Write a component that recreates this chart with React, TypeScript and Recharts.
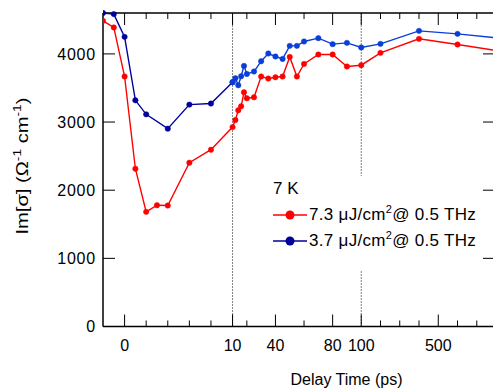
import React from "react";
import { ComposedChart, Line, XAxis, YAxis, ReferenceLine, Legend } from "recharts";

// Im[sigma] vs delay time at 7 K, two pump fluences.
// The time axis is broken into three linear pieces (0-10, 10-100, 100+ ps).

const FONT = '"Liberation Sans", Arial, Helvetica, sans-serif';
const RED = "#ff0000";
const NAVY = "#00009c";
const BLUE = "#0a3ed6";

const redTimes = [-2, -1, 0, 1, 2, 3, 4, 6, 8, 10, 12, 14, 16, 18, 20, 25, 30, 35, 40, 45, 50, 55, 60, 70, 80, 90, 100, 200, 400, 600, 800];
const redValues = [4485, 4388, 3668, 2315, 1682, 1779, 1775, 2403, 2594, 2926, 3029, 3172, 3231, 3437, 3349, 3363, 3668, 3638, 3657, 3668, 3956, 3668, 3853, 3991, 3991, 3815, 3834, 4015, 4221, 4138, 4050];

// the low-fluence curve is drawn in two colours (before / after 10 ps)
const blueEarlyTimes = [-2, -1, 0, 1, 2, 4, 6, 8, 10];
const blueEarlyValues = [4600, 4584, 4250, 3319, 3113, 2903, 3256, 3271, 3585];
const blueLateTimes = [10, 12, 14, 16, 18, 20, 25, 30, 35, 40, 45, 50, 55, 60, 70, 80, 90, 100, 200, 400, 600, 800];
const blueLateValues = [3585, 3643, 3540, 3672, 3824, 3706, 3741, 3893, 4006, 3962, 3926, 4118, 4118, 4182, 4231, 4143, 4162, 4094, 4147, 4338, 4294, 4235];

const xTickTimes = [0, 2, 4, 6, 8, 10, 20, 40, 60, 80, 100, 200, 300, 400, 500, 600, 700];
const xTickLabels = ["0", "", "", "", "", "10", "", "40", "", "80", "100", "", "", "", "500", "", ""];
const yTicks = [0, 1000, 2000, 3000, 4000];

const Y_MAX = 4600;
const PLOT_H = 313.5; // px, used only to turn tick lengths into y units

// piecewise-linear time axis (1 unit = 1 px)
function axisPos(t: number): number {
  if (t <= 10) return t * 10.79;
  if (t <= 100) return 107.9 + (t - 10) * 1.429;
  return 236.5 + (t - 100) * 0.1925;
}

const X_MIN = axisPos(-2);
const X_MAX = 370.2;

function toPoints(times: number[], values: number[]) {
  return times.map((t, i) => ({ pos: axisPos(t), time: t, v: values[i] }));
}

const redData = toPoints(redTimes, redValues);
const blueEarlyData = toPoints(blueEarlyTimes, blueEarlyValues);
const blueLateData = toPoints(blueLateTimes, blueLateValues);
const xTicks = xTickTimes.map(axisPos);

function labelFor(value: number): string {
  const i = xTicks.findIndex((p) => Math.abs(p - value) < 1e-6);
  return i >= 0 ? xTickLabels[i] : "";
}

const renderBottomLabel = (props: any) => {
  const label = labelFor(props.payload.value);
  if (!label) return <g />;
  return (
    <text x={props.x} y={Number(props.y) + 24} textAnchor="middle" fontSize={16} fontFamily={FONT} fill="#000">
      {label}
    </text>
  );
};

function YLabel() {
  return (
    <text
      transform="translate(28,166) rotate(-90)"
      textAnchor="middle"
      fontSize={16}
      fontFamily={FONT}
      fill="#000"
      textLength={137}
      lengthAdjust="spacingAndGlyphs"
    >
      Im[σ] (Ω
      <tspan dy={-7} fontSize={11}>-1</tspan>
      <tspan dy={7}> cm</tspan>
      <tspan dy={-7} fontSize={11}>-1</tspan>
      <tspan dy={7}>)</tspan>
    </text>
  );
}

function XLabel() {
  return (
    <text x={346.5} y={385} textAnchor="middle" fontSize={16} fontFamily={FONT} fill="#000">
      Delay Time (ps)
    </text>
  );
}

function LegendRow({ color, fluence }: { color: string; fluence: string }) {
  return (
    <div style={{ display: "flex", alignItems: "center", height: 26 }}>
      <svg width={34} height={12}>
        <line x1={0} x2={34} y1={6} y2={6} stroke={color} strokeWidth={1.5} />
        <circle cx={17} cy={6} r={4.5} fill={color} />
      </svg>
      <span style={{ marginLeft: 2, whiteSpace: "nowrap", fontSize: 17, letterSpacing: 0.3 }}>
        {fluence} μJ/cm
        <span style={{ fontSize: 11, position: "relative", top: -7 }}>2</span>@ 0.5 THz
      </span>
    </div>
  );
}

function LegendBox() {
  return (
    <div
      style={{
        background: "#fff",
        width: 215,
        height: 95,
        paddingLeft: 11,
        boxSizing: "border-box",
        fontFamily: FONT,
        fontSize: 16,
        color: "#000",
      }}
    >
      <div style={{ height: 26, lineHeight: "26px", fontSize: 17 }}>7 K</div>
      <LegendRow color={RED} fluence="7.3" />
      <LegendRow color={NAVY} fluence="3.7" />
    </div>
  );
}

const dot = (c: string) => ({ r: 2.7, fill: c, stroke: c, strokeWidth: 0.5 });

// inward tick marks on all four sides, drawn as short reference segments
const yUnitsPerPx = Y_MAX / PLOT_H;
const tickStyle = { stroke: "#000", strokeWidth: 1 };

function frameTicks() {
  const out: React.ReactNode[] = [];
  xTicks.forEach((p, i) => {
    const len = (xTickLabels[i] ? 12 : 6) * yUnitsPerPx;
    out.push(<ReferenceLine key={`b${i}`} segment={[{ x: p, y: 0 }, { x: p, y: len }]} {...tickStyle} />);
    out.push(<ReferenceLine key={`t${i}`} segment={[{ x: p, y: Y_MAX }, { x: p, y: Y_MAX - len }]} {...tickStyle} />);
  });
  yTicks.forEach((v, i) => {
    out.push(<ReferenceLine key={`l${i}`} segment={[{ x: X_MIN, y: v }, { x: X_MIN + 12, y: v }]} {...tickStyle} />);
    out.push(<ReferenceLine key={`r${i}`} segment={[{ x: X_MAX - 12, y: v }, { x: X_MAX, y: v }]} {...tickStyle} />);
  });
  return out;
}

export default function App() {
  return (
    <div style={{ position: "absolute", left: 0, top: 0, width: 493, height: 388, overflow: "hidden", background: "#fff" }}>
      <ComposedChart width={505} height={388} margin={{ top: 13, right: 10, left: 0, bottom: 0 }}>
        <XAxis
          dataKey="pos"
          type="number"
          domain={[X_MIN, X_MAX]}
          allowDataOverflow
          ticks={xTicks}
          interval={0}
          tickSize={0}
          tickMargin={0}
          tickLine={false}
          tick={renderBottomLabel}
          axisLine={{ stroke: "#000", strokeWidth: 1.5 }}
          height={61.5}
          label={<XLabel />}
        />
        <YAxis
          type="number"
          domain={[0, Y_MAX]}
          ticks={yTicks}
          interval={0}
          tickSize={0}
          tickMargin={7}
          tickLine={false}
          tick={{ fontSize: 16, fontFamily: FONT, fill: "#000", letterSpacing: 0.8 }}
          axisLine={{ stroke: "#000", strokeWidth: 1.5 }}
          width={103}
          label={<YLabel />}
        />

        {/* top frame line */}
        <ReferenceLine y={Y_MAX} stroke="#000" strokeWidth={1.5} />
        {frameTicks()}

        <ReferenceLine x={axisPos(10)} stroke="#000" strokeWidth={1} strokeDasharray="1 2" />
        <ReferenceLine x={axisPos(100)} stroke="#000" strokeWidth={1} strokeDasharray="1 2" />

        <Line data={redData} dataKey="v" stroke={RED} strokeWidth={1.4} dot={dot(RED)} activeDot={false} isAnimationActive={false} />
        <Line data={blueEarlyData} dataKey="v" stroke={NAVY} strokeWidth={1.4} dot={dot(NAVY)} activeDot={false} isAnimationActive={false} />
        <Line data={blueLateData} dataKey="v" stroke={BLUE} strokeWidth={1.4} dot={dot(BLUE)} activeDot={false} isAnimationActive={false} />

        <Legend
          layout="vertical"
          align="center"
          verticalAlign="middle"
          content={() => <LegendBox />}
          wrapperStyle={{ position: "absolute", left: 262, top: 176, width: 215, height: 95 }}
        />
      </ComposedChart>
    </div>
  );
}
